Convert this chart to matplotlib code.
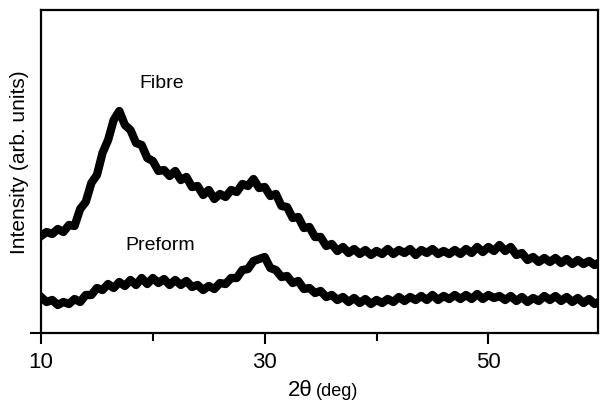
import numpy as np
import matplotlib
matplotlib.use("Agg")
import matplotlib.pyplot as plt

plt.rcParams['font.family'] = ['Liberation Sans', 'DejaVu Sans']

# 2theta grid (deg) and intensities (arb. units)
two_theta = np.arange(10.0, 60.01, 0.5)

fibre = [97, 101, 99, 104, 101, 108, 107, 124, 131, 150,
         158, 180, 193, 213, 222, 208, 203, 190, 188, 175,
         172, 162, 163, 157, 162, 153, 156, 146, 147, 138,
         143, 134, 139, 136, 143, 141, 149, 147, 154, 145,
         146, 137, 139, 127, 126, 115, 116, 105, 106, 96,
         96, 87, 89, 82, 86, 80, 84, 79, 83, 78,
         82, 79, 84, 79, 83, 80, 84, 78, 83, 80,
         84, 79, 82, 79, 83, 79, 84, 80, 86, 81,
         86, 82, 88, 82, 86, 78, 80, 73, 76, 71,
         75, 71, 75, 70, 74, 69, 73, 69, 72, 68,
         71]

preform = [36, 31, 33, 28, 31, 29, 34, 31, 38, 38,
           45, 43, 49, 45, 51, 47, 53, 48, 55, 49,
           55, 50, 54, 48, 53, 48, 52, 46, 48, 43,
           47, 44, 50, 49, 55, 55, 63, 64, 72, 74,
           76, 65, 63, 56, 57, 50, 52, 44, 45, 40,
           42, 36, 38, 33, 36, 31, 35, 30, 34, 29,
           33, 30, 34, 31, 36, 32, 36, 33, 37, 33,
           38, 33, 37, 34, 38, 34, 38, 34, 39, 34,
           38, 35, 37, 33, 37, 32, 36, 31, 35, 32,
           37, 33, 37, 32, 36, 31, 35, 30, 34, 29,
           32]

fig = plt.figure(figsize=(6.03, 4.05), dpi=100)
ax = fig.add_axes([41 / 603, (405 - 333) / 405, 557 / 603, 323 / 405])

ax.plot(two_theta, fibre, color='black', lw=6, solid_joinstyle='round')
ax.plot(two_theta, preform, color='black', lw=6, solid_joinstyle='round')

ax.set_xlim(10, 59.8)
ax.set_ylim(0, 323)

ax.set_xticks([10, 30, 50])
ax.set_xticklabels(['10', '30', '50'], fontsize=16)
ax.set_xticks([20, 40], minor=True)
ax.set_yticks([0])
ax.set_yticklabels([''])
ax.tick_params(axis='x', which='major', direction='out', length=8, width=1.5, pad=6)
ax.tick_params(axis='x', which='minor', direction='out', length=6, width=1.5)
ax.tick_params(axis='y', direction='out', length=8, width=1.5)
for s in ax.spines.values():
    s.set_linewidth(1.6)

ax.text(20.8, 250, 'Fibre', fontsize=14, ha='center', va='center')
ax.text(20.7, 88, 'Preform', fontsize=14, ha='center', va='center')

fig.text(313 / 603, 1 - 391 / 405, '2\u03b8', fontsize=16, ha='right', va='center')
fig.text(316 / 603, 1 - 392 / 405, '(deg)', fontsize=13, ha='left', va='center')
fig.text(20 / 603, 1 - 162 / 405, 'Intensity (arb. units)', fontsize=15,
         rotation=90, ha='center', va='center')

fig.savefig('out.png', dpi=100)
